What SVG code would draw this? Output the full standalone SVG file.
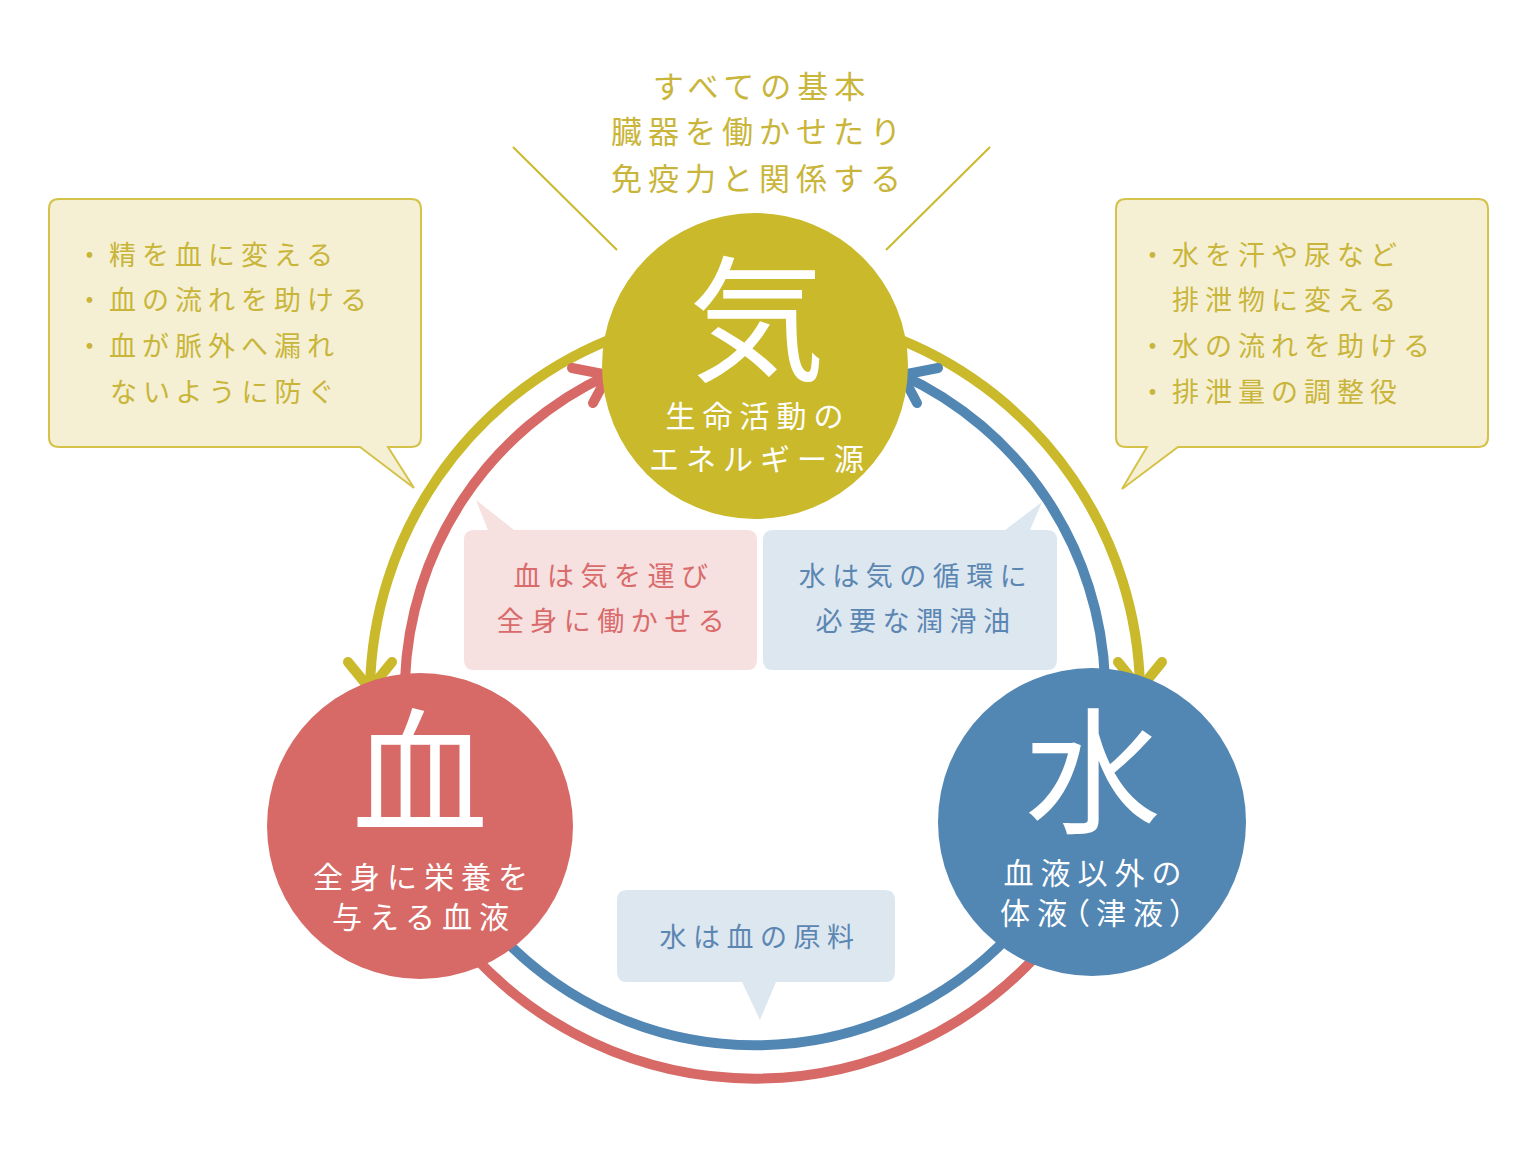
<svg xmlns="http://www.w3.org/2000/svg" width="1536" height="1152" viewBox="0 0 1536 1152">
<style>
text{font-family:"Noto Sans CJK JP","Noto Sans CJK SC",sans-serif;}
.arc{fill:none;stroke-width:10;stroke-linecap:round;stroke-linejoin:round;}
.y{stroke:#cab92b;} .r{stroke:#d76a66;} .b{stroke:#5286b3;}
.big{font-size:136px;fill:#ffffff;text-anchor:middle;}
.lbl{font-size:30px;fill:#ffffff;text-anchor:middle;letter-spacing:7px;}
.gold{fill:#c9b53a;font-size:31px;letter-spacing:6px;}
.list{fill:#c9b53a;font-size:27px;letter-spacing:6px;}
.callout{fill:#f5f0d4;stroke:#d4c24a;stroke-width:2;}
.ctr{font-size:27px;text-anchor:middle;letter-spacing:6.5px;}
.palt{font-feature-settings:"palt" 1;}
</style>
<rect width="1536" height="1152" fill="#ffffff"/>
<g id="connectors">
<path class="arc y" d="M 609 340 A 384 384 0 0 0 370 688"/>
<path class="arc y" d="M 348 662 L 370 689 L 392 662"/>
<path class="arc y" d="M 901 340 A 384 384 0 0 1 1140 688"/>
<path class="arc y" d="M 1118 662 L 1140 689 L 1162 662"/>
<path class="arc r" d="M 405 680 A 350 350 0 0 1 608 375"/>
<path class="arc r" d="M 572 368 L 608 375 L 593 403"/>
<path class="arc b" d="M 1105 680 A 350 350 0 0 0 902 375"/>
<path class="arc b" d="M 938 368 L 902 375 L 917 403"/>
<path class="arc b" d="M 500 935 A 350 350 0 0 0 1010 935"/>
<path class="arc r" d="M 470 952 A 384 384 0 0 0 1040 952"/>
<line x1="513" y1="147" x2="617" y2="250" stroke="#cab92b" stroke-width="2"/>
<line x1="990" y1="147" x2="886" y2="250" stroke="#cab92b" stroke-width="2"/>
</g>
<g id="ki-note">
<text class="gold" x="762" y="98" text-anchor="middle">すべての基本</text>
<text class="gold" x="759" y="143" text-anchor="middle">臓器を働かせたり</text>
<text class="gold" x="759" y="190" text-anchor="middle">免疫力と関係する</text>
</g>
<g id="left-callout">
<path class="callout" d="M 59 199 H 411 Q 421 199 421 209 V 437 Q 421 447 411 447 H 388 L 414 488 L 360 447 H 59 Q 49 447 49 437 V 209 Q 49 199 59 199 Z"/>
<text class="list" x="76" y="265">・精を血に変える</text>
<text class="list" x="76" y="310">・血の流れを助ける</text>
<text class="list" x="76" y="356">・血が脈外へ漏れ</text>
<text class="list" x="110" y="402">ないように防ぐ</text>
</g>
<g id="right-callout">
<path class="callout" d="M 1126 199 H 1478 Q 1488 199 1488 209 V 437 Q 1488 447 1478 447 H 1178 L 1122 489 L 1147 447 H 1126 Q 1116 447 1116 437 V 209 Q 1116 199 1126 199 Z"/>
<text class="list" x="1139" y="265">・水を汗や尿など</text>
<text class="list" x="1172" y="310">排泄物に変える</text>
<text class="list" x="1139" y="356">・水の流れを助ける</text>
<text class="list" x="1139" y="402">・排泄量の調整役</text>
</g>
<g id="blood-ki-note">
<path fill="#f6e0e0" d="M 474 530 H 488 L 476 500 L 514 530 H 747 Q 757 530 757 540 V 660 Q 757 670 747 670 H 474 Q 464 670 464 660 V 540 Q 464 530 474 530 Z"/>
<text class="ctr" x="614" y="586" fill="#d96b6b">血は気を運び</text>
<text class="ctr" x="614" y="631" fill="#d96b6b">全身に働かせる</text>
</g>
<g id="water-ki-note">
<path fill="#dde7f0" d="M 773 530 H 1005 L 1042 502 L 1030 530 H 1047 Q 1057 530 1057 540 V 660 Q 1057 670 1047 670 H 773 Q 763 670 763 660 V 540 Q 763 530 773 530 Z"/>
<text class="ctr" x="916" y="586" fill="#5b86b2">水は気の循環に</text>
<text class="ctr" x="916" y="631" fill="#5b86b2">必要な潤滑油</text>
</g>
<g id="water-blood-note">
<path fill="#dde7f0" d="M 627 890 H 885 Q 895 890 895 900 V 972 Q 895 982 885 982 H 776 L 760 1020 L 742 982 H 627 Q 617 982 617 972 V 900 Q 617 890 627 890 Z"/>
<text class="ctr" x="760" y="947" fill="#5b86b2">水は血の原料</text>
</g>
<g id="ki">
<circle cx="755" cy="366" r="153" fill="#cab92b"/>
<text class="big" x="757" y="371">気</text>
<text class="lbl" x="758" y="427">生命活動の</text>
<text class="lbl" x="760" y="470">エネルギー源</text>
</g>
<g id="ketsu">
<circle cx="420" cy="826" r="153" fill="#d76a66"/>
<text class="big" x="420" y="823">血</text>
<text class="lbl" x="424" y="888">全身に栄養を</text>
<text class="lbl" x="424" y="928">与える血液</text>
</g>
<g id="sui">
<circle cx="1092" cy="822" r="154" fill="#5286b3"/>
<text class="big" x="1093" y="823">水</text>
<text class="lbl" x="1096" y="884">血液以外の</text>
<text class="lbl palt" x="1096" y="924">体液（津液）</text>
</g>
</svg>
